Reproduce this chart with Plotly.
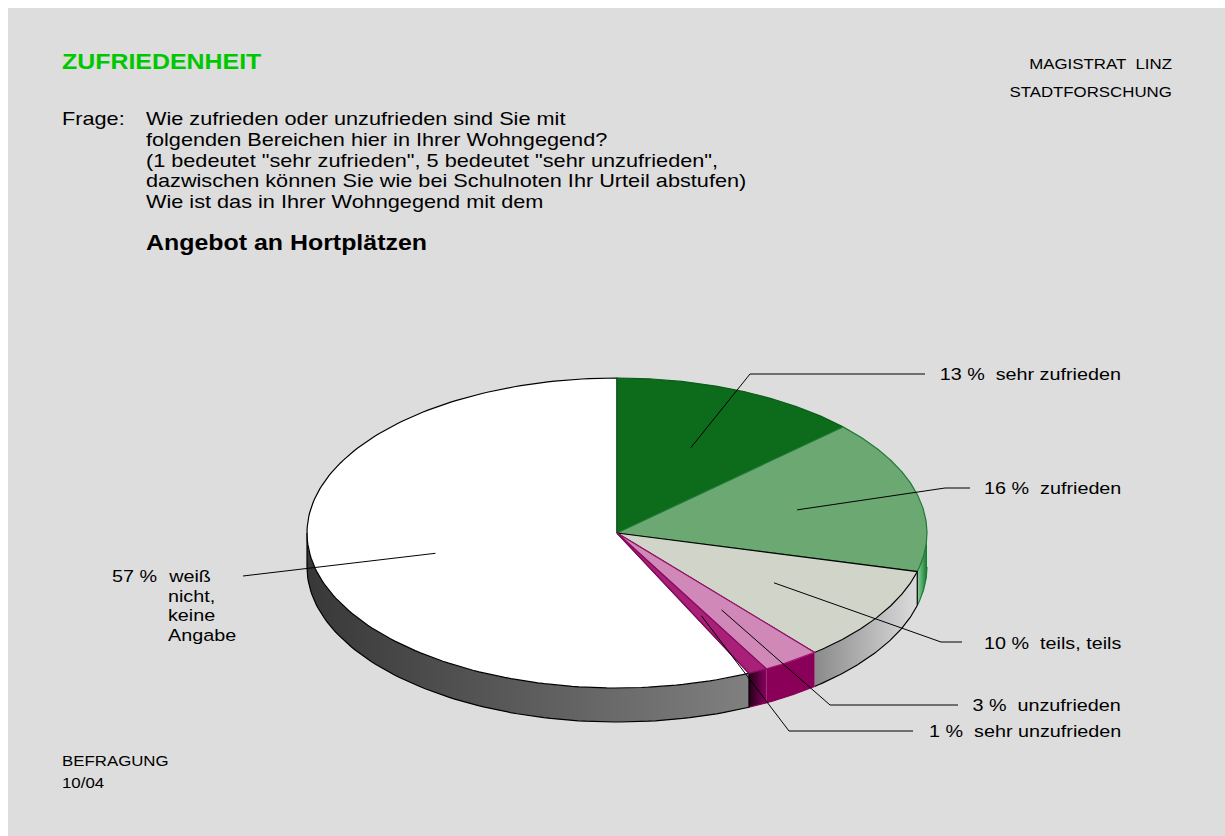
import numpy as np
import plotly.graph_objects as go

# --- data ---
values = [13, 16, 10, 3, 1, 57]
percent_labels = ["13 %", "16 %", "10 %", "3 %", "1 %", "57 %"]
categories = ["sehr zufrieden", "zufrieden", "teils, teils", "unzufrieden", "sehr unzufrieden", "weiß"]
top_colors = ["#0d6b1c", "#6ba872", "#d1d5c9", "#d088b8", "#a82078", "#ffffff"]
edge_colors = ["#0a5c18", "#1f7a35", "#000000", "#a0106c", "#8a0a60", "#000000"]
wall_colorstops = [
    ["#0d6b1c", "#0d6b1c"],
    ["#8fd0a0", "#0f7a2a"],
    ["#8a8a8a", "#dcdcdc"],
    ["#8a0058", "#8a0058"],
    ["#240018", "#8a0060"],
    ["#383838", "#808080"],
]
question_lines = [
    "Wie zufrieden oder unzufrieden sind Sie mit",
    "folgenden Bereichen hier in Ihrer Wohngegend?",
    '(1 bedeutet "sehr zufrieden", 5 bedeutet "sehr unzufrieden",',
    "dazwischen können Sie wie bei Schulnoten Ihr Urteil abstufen)",
    "Wie ist das in Ihrer Wohngegend mit dem",
]

# --- geometry of the projected disc (page pixels; the page body offsets the figure by 8 px) ---
W, H = 1225, 836
OFF = 8
CX, CY, RX, RY, DEPTH = 617, 533, 310, 155, 34
FONT = "Liberation Sans"
STRETCH = 1.17
LW = 1.2


def pt(deg, r=1.0):
    a = np.radians(deg)
    return CX + RX * r * np.sin(a), CY - RY * r * np.cos(a)


cum = np.concatenate([[0], np.cumsum(values)]) * 3.6
starts, ends = cum[:-1], cum[1:]
mids = (starts + ends) / 2

fig = go.Figure()

# visible side walls
for i in range(len(values)):
    a, b = max(starts[i], 90), min(ends[i], 270)
    if b <= a:
        continue
    t = np.linspace(a, b, 90)
    x, y = pt(t)
    xs = np.concatenate([x, x[::-1], x[:1]])
    ys = np.concatenate([y, y[::-1] + DEPTH, y[:1]])
    c0, c1 = wall_colorstops[i]
    fig.add_trace(go.Scatter(
        x=xs, y=ys, mode="none", fill="toself", hoverinfo="skip",
        fillgradient=dict(type="horizontal", colorscale=[[0, c0], [1, c1]]),
    ))
    fig.add_trace(go.Scatter(
        x=x, y=y + DEPTH, mode="lines", hoverinfo="skip",
        line=dict(color=edge_colors[i] if i not in (3, 4) else "#8a0058", width=LW),
    ))

# wall dividers and outer silhouette edges
for deg in [ends[1], ends[4], 270]:
    x, y = pt(deg)
    fig.add_trace(go.Scatter(x=[x, x], y=[y, y + DEPTH], mode="lines",
                             hoverinfo="skip", line=dict(color="#000000", width=LW)))

# top faces: white slice first, the others over it
for i in [5, 0, 1, 2, 3, 4]:
    t = np.linspace(starts[i], ends[i], 160)
    x, y = pt(t)
    fig.add_trace(go.Scatter(
        x=np.concatenate([[CX], x, [CX]]), y=np.concatenate([[CY], y, [CY]]),
        mode="lines", fill="toself", fillcolor=top_colors[i], hoverinfo="skip",
        line=dict(color=edge_colors[i], width=LW),
        name=categories[i],
    ))

# leader lines start from the slice mid-angle
elbows = [(750, 374, 925), (945, 488, 970), (941, 642, 962), (830, 705, 958), (789, 731, 913), (243, 576, 243)]
for i, (ex, ey, tx) in enumerate(elbows):
    ax, ay = pt(mids[i], 0.6)
    fig.add_trace(go.Scatter(x=[ax, ex, tx], y=[ay, ey, ey], mode="lines", hoverinfo="skip",
                             line=dict(color="#000000", width=1)))

anns = []


def txt(x, y, s, size=16.9, color="#000000", bold=False, anchor="left"):
    # annotation boxes carry 2 px of padding, taken back here
    xp = x - 2 if anchor == "left" else x + 2
    anns.append(dict(x=xp, y=y, xref="x", yref="y", text=f"<b>{s}</b>" if bold else s,
                     showarrow=False, xanchor=anchor, yanchor="middle",
                     font=dict(family=FONT, size=size, color=color)))


txt(62, 62, "ZUFRIEDENHEIT", 21.3, "#00c800", True)
txt(1172, 64, "MAGISTRAT&nbsp;&nbsp;LINZ", 14.4, anchor="right")
txt(1172, 92, "STADTFORSCHUNG", 14.4, anchor="right")
txt(62, 118, "Frage:", 18.55)
for y, line in zip([118, 139, 160, 180, 201], question_lines):
    txt(146, y, line, 18.55)
txt(146, 243, "Angebot an Hortplätzen", 21.3, bold=True)

label_y = [374, 488, 643, 705, 731]
for i, y in enumerate(label_y):
    txt(1121, y, f"{percent_labels[i]}&nbsp;&nbsp;{categories[i]}", anchor="right")
txt(112, 576, percent_labels[5], 16.9)
for y, s in zip([576, 596, 615, 635], [categories[5], "nicht,", "keine", "Angabe"]):
    txt(168, y, s)
txt(62, 761, "BEFRAGUNG", 14.4)
txt(62, 783, "10/04", 14.4)

fig.update_layout(
    width=W, height=H, margin=dict(l=0, r=0, t=0, b=0), showlegend=False,
    paper_bgcolor="#dddddd", plot_bgcolor="#dddddd", annotations=anns,
    xaxis=dict(range=[OFF, W + OFF], visible=False, fixedrange=True),
    yaxis=dict(range=[H + OFF, OFF], visible=False, fixedrange=True),
)

# the reference's lettering is horizontally stretched: widen the real text about its anchor;
# the page canvas keeps the grey panel running to the window's right edge
stretch_js = """
var gd = document.getElementById('{plot_id}');
document.documentElement.style.background =
  'linear-gradient(#ffffff 8px, transparent 8px), linear-gradient(to right, #ffffff 8px, #dddddd 8px)';
function stretchText() {
  gd.querySelectorAll('g.annotation').forEach(function (g) {
    var t = g.querySelector('text.annotation-text');
    var a = gd.layout.annotations[+g.getAttribute('data-index')];
    if (!t || !a) return;
    var b = t.getBBox();
    var ax = a.xanchor === 'right' ? b.x + b.width : b.x;
    t.setAttribute('transform', 'translate(' + ax + ',0) scale(%s,1) translate(' + (-ax) + ',0)');
  });
}
stretchText();
gd.on('plotly_afterplot', stretchText);
""" % STRETCH
fig.write_html("out.html", config={"displayModeBar": False}, post_script=stretch_js,
               default_width=f"{W}px", default_height=f"{H}px")
